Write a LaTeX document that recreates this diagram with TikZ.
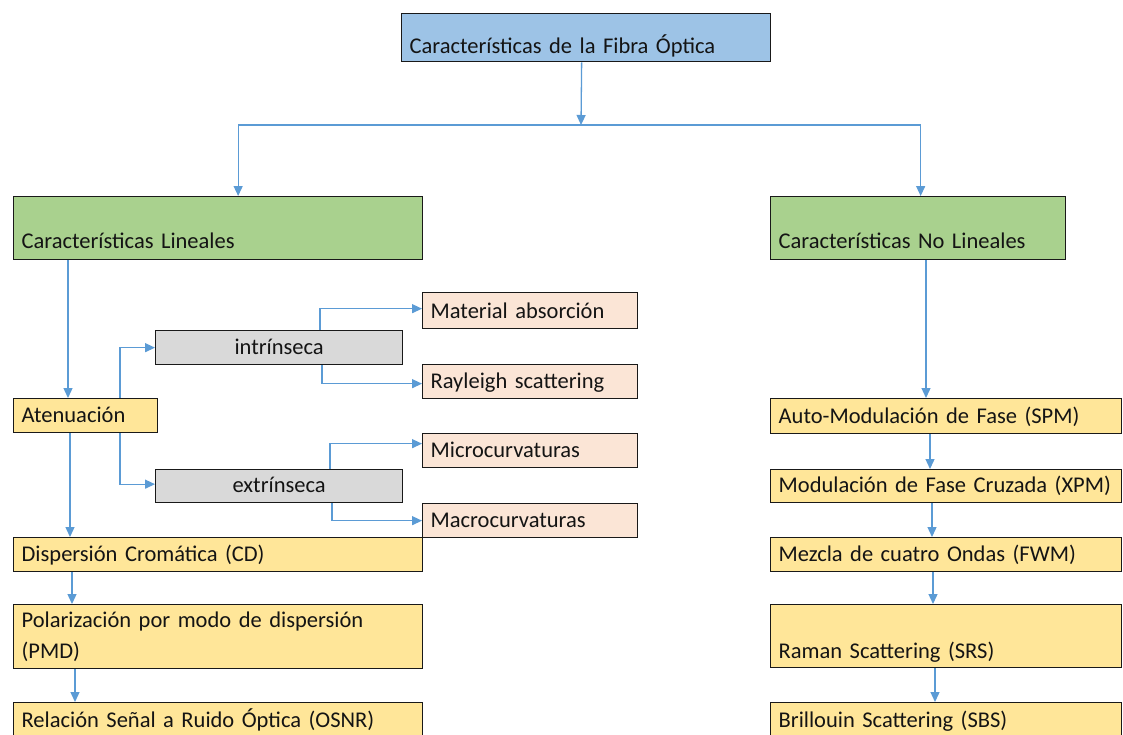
\documentclass[tikz,border=0pt]{standalone}
\usepackage{fontspec}
\setmainfont{Carlito}
\usetikzlibrary{arrows.meta}

\definecolor{topblue}{HTML}{9DC3E6}
\definecolor{lingreen}{HTML}{A9D18E}
\definecolor{effyellow}{HTML}{FFE699}
\definecolor{subpink}{HTML}{FBE5D6}
\definecolor{midgray}{HTML}{D9D9D9}
\definecolor{linkblue}{HTML}{5B9BD5}
\definecolor{inktext}{HTML}{141414}

\tikzset{
  box/.style={draw=black!90, line width=1.3pt, anchor=north west,
    inner xsep=8pt, inner ysep=0pt, align=left, text=inktext,
    font=\fontsize{22.5pt}{31pt}\selectfont},
  conn/.style={draw=linkblue, line width=1.3pt,
    -{Triangle[length=10pt,width=9pt]}},
  link/.style={draw=linkblue, line width=1.3pt}
}

\begin{document}
\begin{tikzpicture}[x=1pt,y=-1pt]
  \clip (0,0) rectangle (1123,734);
  \fill[white] (0,0) rectangle (1123,734);

  % root
  \node[box, fill=topblue, text width=353pt, text height=40pt, text depth=8pt]
    (top) at (401,13) {Características de la Fibra Óptica};

  % the two families
  \node[box, fill=lingreen, text width=393pt, text height=52pt, text depth=11pt]
    (lin) at (13,196) {Características Lineales};
  \node[box, fill=lingreen, text width=279pt, text height=52pt, text depth=11pt]
    (nl) at (770,196) {Características No Lineales};

  % linear branch
  \node[box, fill=effyellow, text width=128pt, text height=24pt, text depth=10pt]
    (aten) at (13,398) {Atenuación};
  \node[box, fill=midgray, align=center, text width=231pt, text height=24pt, text depth=10pt]
    (intr) at (155,330) {intrínseca};
  \node[box, fill=midgray, align=center, text width=231pt, text height=23pt, text depth=10pt]
    (extr) at (155,469) {extrínseca};
  \node[box, fill=subpink, text width=199pt, text height=26pt, text depth=10pt]
    (mat) at (422,292) {Material absorción};
  \node[box, fill=subpink, text width=199pt, text height=24pt, text depth=10pt]
    (ray) at (422,364) {Rayleigh scattering};
  \node[box, fill=subpink, text width=199pt, text height=24pt, text depth=10pt]
    (mic) at (422,433) {Microcurvaturas};
  \node[box, fill=subpink, text width=199pt, text height=24pt, text depth=10pt]
    (mac) at (422,503) {Macrocurvaturas};
  \node[box, fill=effyellow, text width=393pt, text height=24pt, text depth=10pt]
    (disp) at (13,537) {Dispersión Cromática (CD)};
  \node[box, fill=effyellow, text width=393pt, minimum height=64pt]
    (pol) at (13,604) {Polarización por modo de dispersión\\(PMD)};
  \node[box, fill=effyellow, text width=393pt, text height=25pt, text depth=11pt]
    (rel) at (13,702) {Relación Señal a Ruido Óptica (OSNR)};

  % non-linear branch
  \node[box, fill=effyellow, text width=335pt, text height=25pt, text depth=10pt]
    (spm) at (770,398) {Auto-Modulación de Fase (SPM)};
  \node[box, fill=effyellow, text width=335pt, text height=23pt, text depth=10pt]
    (xpm) at (770,469) {Modulación de Fase Cruzada (XPM)};
  \node[box, fill=effyellow, text width=335pt, text height=24pt, text depth=10pt]
    (fwm) at (770,537) {Mezcla de cuatro Ondas (FWM)};
  \node[box, fill=effyellow, text width=335pt, text height=54pt, text depth=9pt]
    (srs) at (770,604) {Raman Scattering (SRS)};
  \node[box, fill=effyellow, text width=335pt, text height=25pt, text depth=11pt]
    (sbs) at (770,702) {Brillouin Scattering (SBS)};

  % root split
  \coordinate (split) at (581,125);
  \draw[conn] ([xshift=-4.5pt]top.south) -- (split);
  \draw[link] ([xshift=20pt]lin.north |- split) -- ([xshift=2.5pt]nl.north |- split);
  \draw[conn] ([xshift=20pt]lin.north |- split) -- ([xshift=20pt]lin.north);
  \draw[conn] ([xshift=2.5pt]nl.north |- split) -- ([xshift=2.5pt]nl.north);

  % linear connectors
  \draw[conn] ([xshift=55pt]lin.south west) -- ([xshift=55pt]lin.south west |- aten.north);
  \draw[conn] ([xshift=107pt]aten.north west) |- (intr.west);
  \draw[conn] ([xshift=107pt]aten.south west) |- ([yshift=2pt]extr.west);
  \draw[conn] ([xshift=165pt]intr.north west) |- ([yshift=2pt]mat.west);
  \draw[conn] ([xshift=167pt]intr.south west) |- ([yshift=-2pt]ray.west);
  \draw[conn] ([xshift=175pt]extr.north west) |- ([yshift=7pt]mac.west |- mic.west);
  \draw[conn] ([xshift=177pt]extr.south west) |- (mac.west);
  \draw[conn] ([xshift=57pt]aten.south west) -- ([xshift=57pt]aten.south west |- disp.north);
  \draw[conn] ([xshift=59pt]disp.south west) -- ([xshift=59pt]disp.south west |- pol.north);
  \draw[conn] ([xshift=62pt]pol.south west) -- ([xshift=62pt]pol.south west |- rel.north);

  % non-linear connectors
  \draw[conn] ([xshift=156pt]nl.south west) -- ([xshift=156pt]nl.south west |- spm.north);
  \draw[conn] ([xshift=160pt]spm.south west) -- ([xshift=160pt]spm.south west |- xpm.north);
  \draw[conn] ([xshift=162pt]xpm.south west) -- ([xshift=162pt]xpm.south west |- fwm.north);
  \draw[conn] ([xshift=163pt]fwm.south west) -- ([xshift=163pt]fwm.south west |- srs.north);
  \draw[conn] ([xshift=165pt]srs.south west) -- ([xshift=165pt]srs.south west |- sbs.north);
\end{tikzpicture}
\end{document}
